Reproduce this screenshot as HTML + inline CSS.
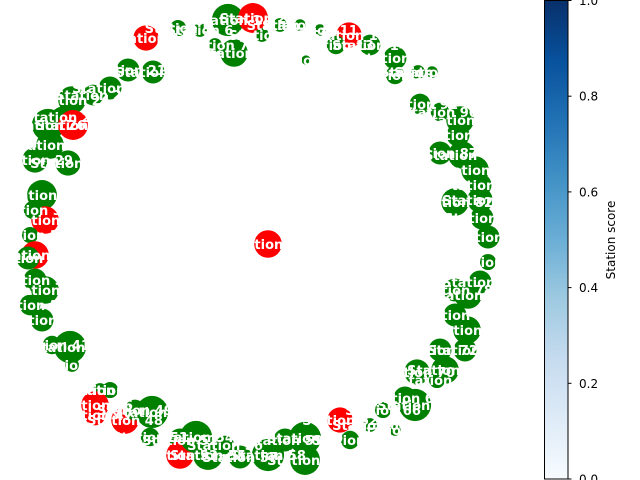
<!DOCTYPE html>
<html><head><meta charset="utf-8"><style>
html,body{margin:0;padding:0;background:#fff;}
svg{display:block;font-family:"DejaVu Sans","Liberation Sans",sans-serif;}
</style></head><body>
<svg id="c" width="640" height="480" viewBox="0 0 640 480">
<defs><linearGradient id="blues" x1="0" y1="1" x2="0" y2="0">
<stop offset="0" stop-color="#f7fbff"/><stop offset="0.125" stop-color="#deebf7"/><stop offset="0.25" stop-color="#c6dbef"/><stop offset="0.375" stop-color="#9ecae1"/><stop offset="0.5" stop-color="#6baed6"/><stop offset="0.625" stop-color="#4292c6"/><stop offset="0.75" stop-color="#2171b5"/><stop offset="0.875" stop-color="#08519c"/><stop offset="1" stop-color="#08306b"/></linearGradient></defs>
<g id="nodes"></g>
<g id="cbar"></g>
</svg>
<script>
const nodeX=[228,253,234,146,178,200,215,262,280,300,320,349,336,370,395,395,418,432,306,110,128,153,93,72,62,48,73,50,35,68,42,45,33,30,35,28,35,45,30,42,52,70,72,100,110,95,95,125,135,152,150,180,180,196,208,225,240,268,285,305,305,340,350,370,395,383,405,415,437,417,445,440,465,467,455,468,480,455,488,488,482,455,480,480,475,462,440,458,460,440,420,268];
const nodeY=[20,18,53,38,28,30,45,35,25,25,30,35,45,45,58,75,72,72,60,88,70,72,95,100,117,125,125,145,160,163,195,220,210,235,255,258,280,290,305,320,345,347,365,390,390,405,415,420,410,412,437,440,455,437,455,445,457,455,440,438,460,420,440,425,430,410,398,405,380,372,370,350,350,330,315,295,282,290,262,237,218,202,200,185,170,155,153,135,120,112,104,244];
const nodeR=[14,13,12,11,7,6,6,6,6,5,5,11,8,9,10,8,6,5,4,10,10,10,9,12,9,14,13,12,11,11,13,12,8,7,12,10,10,12,9,10,8,14,6,6,7,12,9,12,9,14,8,10,12,14,13,8,10,14,10,14,13,11,8,6,5,7,10,14,7,11,12,10,10,12,10,12,10,10,7,10,10,12,11,10,12,12,10,10,12,8,9,12];
const nodeRed=[0,1,0,1,0,0,0,0,0,0,0,1,0,0,0,0,0,0,0,0,0,0,0,0,0,0,1,0,0,0,0,1,0,0,1,0,0,0,0,0,0,0,0,0,0,1,1,1,0,0,0,0,1,0,0,0,0,0,0,0,0,1,0,0,0,0,0,0,0,0,0,0,0,0,0,0,0,0,0,0,0,0,0,0,0,0,0,0,0,0,0,1];
const cbTicks=[0,0.2,0.4,0.6,0.8,1.0];
const cbLabels=["0.0","0.2","0.4","0.6","0.8","1.0"];
const NS="http://www.w3.org/2000/svg";
const ng=document.getElementById('nodes');
for(let i=0;i<nodeX.length;i++){
  const c=document.createElementNS(NS,'circle');
  c.setAttribute('cx',nodeX[i]);c.setAttribute('cy',nodeY[i]);c.setAttribute('r',nodeR[i]*1.15);
  c.setAttribute('fill',nodeRed[i]?'#ff0000':'#008000');
  
  
  ng.appendChild(c);
}
for(let i=0;i<nodeX.length;i++){
  const t=document.createElementNS(NS,'text');
  t.setAttribute('x',nodeX[i]);t.setAttribute('y',nodeY[i]+5);
  t.setAttribute('text-anchor','middle');t.setAttribute('font-size','13');t.setAttribute('font-weight','bold');t.setAttribute('fill','#fff');
  t.textContent='Station '+(i+1);
  
  
  ng.appendChild(t);
}
const cb=document.getElementById('cbar');
const cbTop=0.5,cbBot=479,x0=544.5,x1=568;
const yS=v=>cbBot-(cbBot-cbTop)*v;
const r=document.createElementNS(NS,'rect');
r.setAttribute('x',x0);r.setAttribute('y',cbTop);r.setAttribute('width',x1-x0);r.setAttribute('height',cbBot-cbTop);
r.setAttribute('fill','url(#blues)');r.setAttribute('stroke','#000');r.setAttribute('stroke-width','1');


cb.appendChild(r);
cbTicks.forEach((v,i)=>{
  const y=yS(v);
  const l=document.createElementNS(NS,'line');
  l.setAttribute('x1',x1);l.setAttribute('x2',x1+3.5);l.setAttribute('y1',y);l.setAttribute('y2',y);l.setAttribute('stroke','#000');
  
  
  cb.appendChild(l);
  const t=document.createElementNS(NS,'text');
  t.setAttribute('x',x1+11);t.setAttribute('y',y+4.5);t.setAttribute('font-size','12');t.setAttribute('fill','#000');
  t.textContent=cbLabels[i];
  
  
  cb.appendChild(t);
});
const lt=document.createElementNS(NS,'text');
lt.setAttribute('transform','translate(615,240) rotate(-90)');lt.setAttribute('text-anchor','middle');lt.setAttribute('font-size','12');
lt.textContent='Station score';


cb.appendChild(lt);
</script>
</body></html>
